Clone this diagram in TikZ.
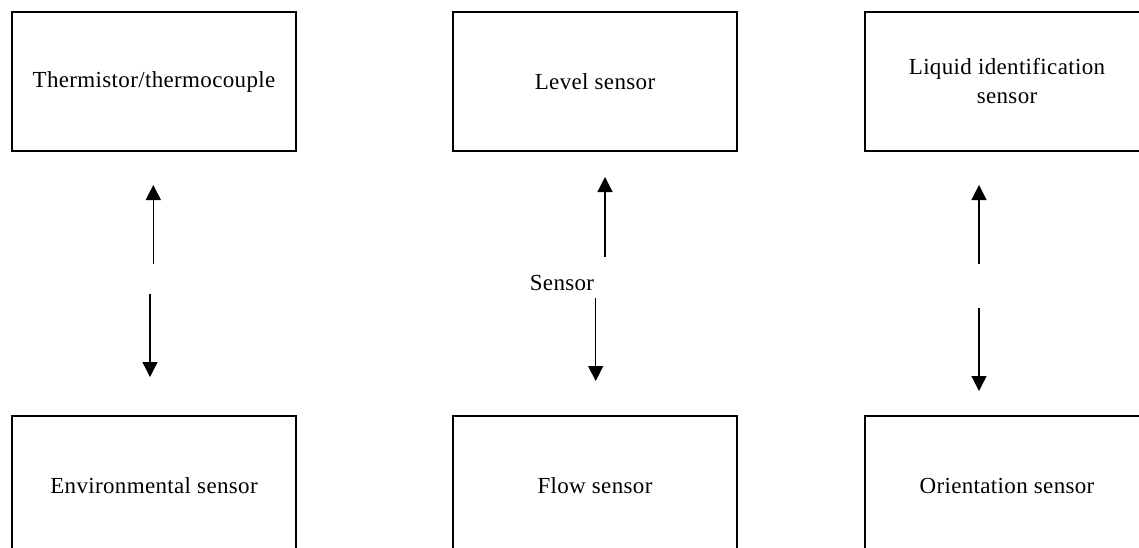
\documentclass[tikz,border=0pt]{standalone}
\usepackage{fontspec}
\setmainfont{Liberation Serif}[LetterSpace=1.5]
\usetikzlibrary{arrows.meta}
\begin{document}
\begin{tikzpicture}[x=1pt,y=-1pt]
    \tikzstyle{box}=[draw, line width=1.8pt, minimum width=284pt, minimum height=139pt, align=center, inner sep=0pt, font=\fontsize{23}{29}\selectfont]
    \tikzstyle{arr}=[line width=1.3pt, -{Triangle[length=15pt,width=15pt]}]
    \path[use as bounding box, clip] (0,0) rectangle (1139,547);
    \node[box] (therm) at (154,81.5){Thermistor/thermocouple};
    \node[box] (level) at (595,81.5){Level sensor};
    \node[box] (liquid) at (1007,81.5){Liquid identification\\sensor};
    \node[box] (env) at (154,485.5){Environmental sensor};
    \node[box] (flow) at (595,485.5){Flow sensor};
    \node[box] (orient) at (1007,485.5){Orientation sensor};
    \node[font=\fontsize{23}{29}\selectfont] (sens) at (562,283){Sensor};
    % arrow ends
    \coordinate (a1) at (153.3,264); \coordinate (t1) at (153.3,185);
    \coordinate (a2) at (150,294);   \coordinate (t2) at (150,377);
    \coordinate (a3) at (605,257);   \coordinate (t3) at (605,177);
    \coordinate (a4) at (595.7,298); \coordinate (t4) at (595.7,381);
    \coordinate (a5) at (979,264);   \coordinate (t5) at (979,185);
    \coordinate (a6) at (979,308);   \coordinate (t6) at (979,391);
    \foreach \i in {1,...,6}
      \draw[arr] (a\i) -- (t\i);
\end{tikzpicture}
\end{document}
